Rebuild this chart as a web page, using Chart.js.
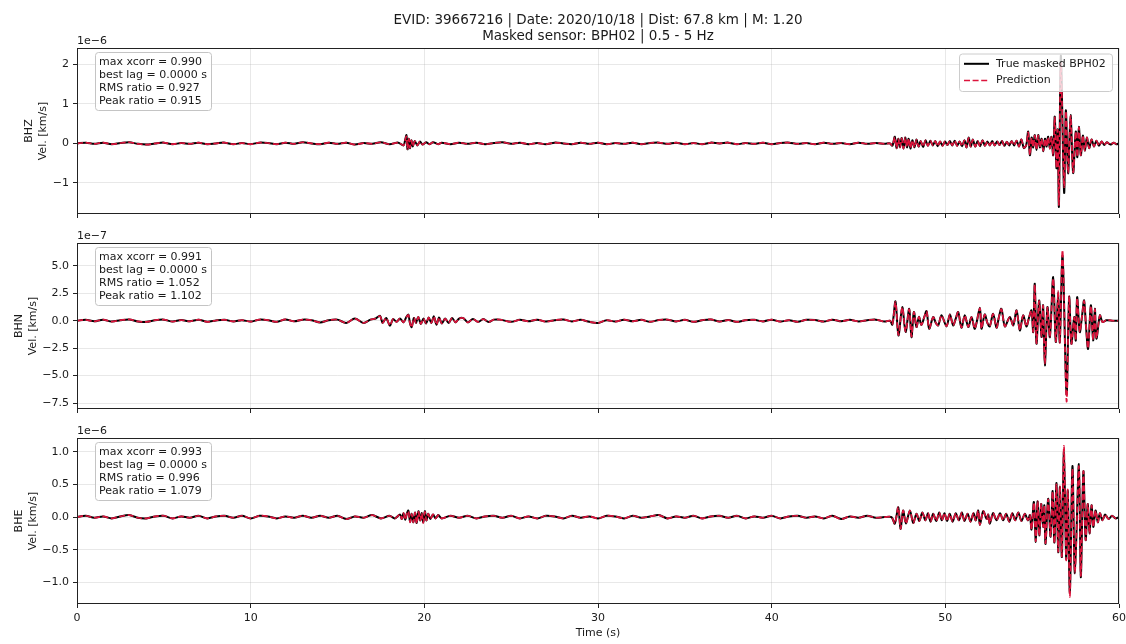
<!DOCTYPE html>
<html><head><meta charset="utf-8">
<script src="https://cdn.jsdelivr.net/npm/chart.js@4.4.0/dist/chart.umd.min.js"></script>
<style>
html,body{margin:0;padding:0;background:#fff;}
#wrap{position:relative;width:1126px;height:644px;overflow:hidden;background:#fff;}
canvas{position:absolute;left:0;}
</style></head><body>
<div id="wrap">
<canvas id="c1" width="1126" height="228" style="top:0px"></canvas>
<canvas id="c2" width="1126" height="195" style="top:228px"></canvas>
<canvas id="c3" width="1126" height="221" style="top:423px"></canvas>
</div>
<script>
// ---------------- DATA ----------------
const titleLines = ['EVID: 39667216 | Date: 2020/10/18 | Dist: 67.8 km | M: 1.20', 'Masked sensor: BPH02 | 0.5 - 5 Hz'];
const seriesNames = ['True masked BPH02', 'Prediction'];
const xTicks = [0,10,20,30,40,50,60];
const xTickLabels = ['0','10','20','30','40','50','60'];
const xTitle = 'Time (s)';

// BHZ (units 1e-6 km/s)
const timeBHZ = [
0,0.5,1,1.5,2,2.5,3,3.5,4,4.5,
5,5.5,6,6.5,7,7.5,8,8.5,9,9.5,
10,10.5,11,11.5,12,12.5,13,13.5,14,14.5,
15,15.5,16,16.5,17,17.5,18,18.5,18.8,18.9,
18.97,19.03,19.1,19.17,19.25,19.33,19.45,19.6,19.75,19.9,
20.1,20.3,20.5,20.8,21,21.5,22,22.5,23,23.5,
24,24.5,25,25.5,26,26.5,27,27.5,28,28.5,
29,29.5,30,30.5,31,31.5,32,32.5,33,33.5,
34,34.5,35,35.5,36,36.5,37,37.5,38,38.5,
39,39.5,40,40.5,41,41.5,42,42.5,43,43.5,
44,44.5,45,45.5,46,46.5,46.81,46.95,47.09,47.19,
47.29,47.39,47.49,47.59,47.69,47.79,47.89,47.99,48.1,48.22,
48.34,48.46,48.58,48.72,48.86,49,49.14,49.28,49.42,49.56,
49.7,49.84,49.98,50.12,50.26,50.4,50.54,50.68,50.82,50.96,
51.1,51.22,51.34,51.46,51.58,51.72,51.86,52,52.14,52.28,
52.42,52.56,52.7,52.84,52.98,53.12,53.26,53.4,53.54,53.68,
53.82,53.96,54.1,54.24,54.38,54.52,54.66,54.77,54.87,54.97,
55.06,55.15,55.25,55.35,55.44,55.54,55.64,55.74,55.83,55.92,
56.02,56.11,56.21,56.3,56.4,56.47,56.54,56.65,56.84,56.94,
57.07,57.21,57.36,57.51,57.6,57.69,57.8,57.92,58.03,58.15,
58.28,58.42,58.56,58.7,58.85,59,59.15,59.3,59.5,59.7,
59.85,60];
const trueBHZ = [
0,0.02,-0.01,0.02,-0.02,0.01,0.03,-0.01,-0.03,0,
0.02,-0.02,0.01,-0.01,0.02,-0.02,0,0.02,-0.02,0.01,
-0.02,0.02,0.01,-0.02,0.02,-0.01,0.03,0,-0.02,0.02,
-0.01,0.02,-0.03,0.01,-0.01,0.03,-0.02,0.02,-0.05,0.1,
0.21,-0.15,0.12,-0.12,0.08,-0.08,0.06,-0.05,0.05,-0.03,
0.03,-0.02,0.03,-0.02,0.02,-0.02,0.02,-0.01,0.02,-0.02,
0.01,0.03,-0.01,0.02,-0.02,0.01,-0.02,0.02,0,-0.02,
0.02,-0.01,0.02,-0.02,0.01,-0.01,0.02,-0.02,0.01,0.02,
-0.01,0.02,-0.02,0.01,-0.02,0.02,0,0.02,-0.02,0.01,
-0.01,0.02,-0.02,0.01,0.02,-0.01,0.01,-0.02,0.02,-0.01,
0.01,-0.02,0.02,-0.01,0.01,-0.01,0,-0.06,0.17,-0.12,
0.12,-0.1,0.14,-0.13,0.15,-0.1,0.12,-0.13,0.08,-0.1,
0.1,-0.08,0.06,-0.09,0.08,-0.06,0.07,-0.05,0.06,-0.07,
0.05,-0.06,0.05,-0.04,0.06,-0.05,0.07,-0.06,0.05,-0.07,
0.08,-0.1,0.15,-0.08,0.1,-0.08,0.06,-0.07,0.08,-0.06,
0.05,-0.05,0.06,-0.05,0.05,-0.04,0.06,-0.06,0.04,-0.05,
0.06,-0.05,0.07,-0.08,0.1,-0.12,-0.04,0.3,-0.3,0.15,
-0.1,0.21,-0.17,0.21,-0.1,0.12,-0.2,0.12,-0.08,0.17,
-0.13,0.17,-0.3,0.68,-0.63,0.35,-1.6,2.23,-1.25,0.84,
-0.76,0.72,-0.75,0.3,-0.35,0.42,-0.3,0.2,-0.18,0.15,
-0.12,0.1,-0.08,0.07,-0.06,0.05,-0.04,0.03,-0.03,0.02,
-0.02,0];
const predBHZ = [
0,0.02,-0.01,0.02,-0.02,0.01,0.03,-0.01,-0.03,0,
0.02,-0.02,0.01,-0.01,0.02,-0.02,0,0.02,-0.02,0.01,
-0.02,0.02,0.01,-0.02,0.02,-0.01,0.03,0,-0.02,0.02,
-0.01,0.02,-0.03,0.01,-0.01,0.03,-0.02,0.02,-0.05,0.09,
0.18,-0.14,0.12,-0.11,0.08,-0.07,0.06,-0.05,0.05,-0.03,
0.03,-0.02,0.03,-0.02,0.02,-0.02,0.02,-0.01,0.02,-0.02,
0.01,0.03,-0.01,0.02,-0.02,0.01,-0.02,0.02,0,-0.02,
0.02,-0.01,0.02,-0.02,0.01,-0.01,0.02,-0.02,0.01,0.02,
-0.01,0.02,-0.02,0.01,-0.02,0.02,0,0.02,-0.02,0.01,
-0.01,0.02,-0.02,0.01,0.02,-0.01,0.01,-0.02,0.02,-0.01,
0.01,-0.02,0.02,-0.01,0.01,-0.01,0,-0.05,0.16,-0.12,
0.11,-0.1,0.13,-0.13,0.15,-0.09,0.12,-0.12,0.08,-0.1,
0.09,-0.08,0.06,-0.08,0.08,-0.06,0.07,-0.05,0.06,-0.07,
0.05,-0.06,0.05,-0.04,0.06,-0.05,0.07,-0.06,0.05,-0.07,
0.08,-0.1,0.14,-0.08,0.1,-0.08,0.06,-0.07,0.08,-0.06,
0.05,-0.05,0.06,-0.05,0.05,-0.04,0.06,-0.06,0.04,-0.05,
0.06,-0.05,0.07,-0.08,0.1,-0.11,-0.04,0.28,-0.29,0.14,
-0.1,0.2,-0.16,0.2,-0.1,0.12,-0.19,0.12,-0.08,0.16,
-0.13,0.16,-0.29,0.66,-0.62,0.34,-1.55,2.04,-1.1,0.82,
-0.74,0.7,-0.73,0.3,-0.34,0.41,-0.3,0.2,-0.18,0.15,
-0.12,0.1,-0.08,0.07,-0.06,0.05,-0.04,0.03,-0.03,0.02,
-0.02,0];
const ticksBHZ = [-1,0,1,2];
const labelsBHZ = ['\u22121','0','1','2'];
const statsBHZ = ['max xcorr = 0.990','best lag = 0.0000 s','RMS ratio = 0.927','Peak ratio = 0.915'];

// BHN (units 1e-7 km/s)
const timeBHN = [
0,0.5,1,1.5,2,2.5,3,3.5,4,4.5,
5,5.5,6,6.5,7,7.5,8,8.5,9,9.5,
10,10.5,11,11.5,12,12.5,13,13.5,14,14.5,
15,15.5,16,16.5,16.9,17.2,17.45,17.6,17.8,18.02,
18.2,18.4,18.6,18.8,18.95,19.08,19.17,19.27,19.4,19.52,
19.65,19.8,19.95,20.1,20.25,20.4,20.55,20.7,20.85,21,
21.2,21.4,21.6,21.8,22,22.24,22.5,22.8,23.1,23.4,
23.7,24,24.35,25,25.5,26,26.5,27,27.5,28,
28.5,29,29.5,30,30.5,31,31.5,32,32.5,33,
33.5,34,34.5,35,35.5,36,36.5,37,37.5,38,
38.5,39,39.5,40,40.5,41,41.5,42,42.5,43,
43.5,44,44.5,45,45.5,46,46.5,46.81,46.95,47.13,
47.3,47.52,47.71,47.92,48.05,48.19,48.34,48.48,48.62,48.78,
48.92,49.07,49.3,49.45,49.59,49.78,50.07,50.26,50.45,50.6,
50.74,50.93,51.12,51.32,51.51,51.7,51.99,52.08,52.27,52.42,
52.56,52.75,52.95,53.08,53.23,53.43,53.71,53.91,54.1,54.29,
54.48,54.67,54.82,54.96,55.06,55.15,55.25,55.4,55.54,55.63,
55.73,55.88,56.02,56.21,56.36,56.5,56.59,56.75,56.98,57.13,
57.26,57.42,57.51,57.59,57.74,57.87,57.99,58.1,58.22,58.38,
58.51,58.61,58.7,58.9,59.05,59.28,59.66,60];
const trueBHN = [
0,0.08,-0.05,0.1,-0.08,0.05,0.12,-0.06,-0.1,0.05,
0.1,-0.08,0.06,-0.05,0.1,-0.1,0.02,0.08,-0.06,0.05,
-0.08,0.1,0.05,-0.1,0.12,-0.05,0.1,0.05,-0.15,0.05,
0.1,-0.2,0.2,-0.2,0.1,0.2,0.45,-0.2,0.25,-0.45,
0.15,-0.1,0.2,-0.15,0.3,0.55,-0.2,-0.58,0.25,-0.2,
0.35,-0.3,0.2,-0.25,0.3,-0.2,0.4,-0.36,0.3,-0.25,
0.2,-0.2,0.25,-0.15,0.2,0.24,-0.15,0.15,-0.1,0.15,
-0.12,0.1,0.1,-0.1,0.08,-0.05,0.1,-0.08,0.05,0.12,
-0.06,0.08,-0.1,-0.2,0.05,-0.08,0.1,-0.05,0.08,-0.1,
0.06,0.1,-0.06,0.08,-0.1,0.05,0.12,-0.08,0.06,-0.1,
0.05,0.08,-0.06,0.1,-0.08,0.05,-0.1,0.08,0.06,-0.08,
0.1,-0.05,0.08,-0.06,0.05,0.1,-0.08,0,-0.35,1.76,
-1.34,1.24,-1.03,1.09,-1.49,0.79,-0.58,0.35,-0.4,0.3,
0.88,-0.73,0.33,-0.2,-0.42,0.49,-0.52,0.58,-0.42,0.2,
0.79,-0.64,0.49,-0.58,0.33,-0.73,1.18,-0.73,0.58,-0.2,
-0.52,0.64,-0.64,0.3,1.09,-0.52,0.33,-0.42,0.94,-0.88,
0.49,-0.52,0.3,0.94,-1.03,3.37,-2.09,1.85,-1.49,1.4,
-4.07,1.24,-1.49,3.98,-1.94,2.61,-1.94,5.9,-6.7,2.15,
-2.09,0.33,-1.8,2.15,-1.03,0.4,1.85,-0.5,-2.55,1.4,
-1.79,1.09,-1.64,0.49,-0.12,0.05,0,0];
const predBHN = [
0,0.08,-0.05,0.1,-0.08,0.05,0.12,-0.06,-0.1,0.05,
0.1,-0.08,0.06,-0.05,0.1,-0.1,0.02,0.08,-0.06,0.05,
-0.08,0.1,0.05,-0.1,0.12,-0.05,0.1,0.05,-0.15,0.05,
0.1,-0.2,0.2,-0.2,0.1,0.2,0.42,-0.2,0.25,-0.43,
0.15,-0.1,0.2,-0.15,0.3,0.52,-0.2,-0.6,0.25,-0.2,
0.35,-0.3,0.2,-0.25,0.3,-0.2,0.38,-0.36,0.3,-0.25,
0.2,-0.2,0.25,-0.15,0.2,0.24,-0.15,0.15,-0.1,0.15,
-0.12,0.1,0.1,-0.1,0.08,-0.05,0.1,-0.08,0.05,0.12,
-0.06,0.08,-0.1,-0.2,0.05,-0.08,0.1,-0.05,0.08,-0.1,
0.06,0.1,-0.06,0.08,-0.1,0.05,0.12,-0.08,0.06,-0.1,
0.05,0.08,-0.06,0.1,-0.08,0.05,-0.1,0.08,0.06,-0.08,
0.1,-0.05,0.08,-0.06,0.05,0.1,-0.08,0,-0.33,1.7,
-1.3,1.22,-1.0,1.05,-1.45,0.78,-0.56,0.35,-0.4,0.3,
0.85,-0.7,0.33,-0.2,-0.42,0.48,-0.5,0.56,-0.42,0.2,
0.77,-0.62,0.48,-0.56,0.33,-0.7,1.15,-0.72,0.56,-0.2,
-0.5,0.62,-0.62,0.3,1.05,-0.52,0.33,-0.42,0.92,-0.86,
0.48,-0.5,0.3,0.92,-1.0,3.3,-2.05,1.8,-1.45,1.38,
-3.9,1.2,-1.45,3.85,-1.9,2.7,-2.0,6.4,-7.35,2.2,
-2.1,0.3,-1.75,2.05,-1.0,0.4,1.8,-0.5,-2.5,1.35,
-1.75,1.05,-1.6,0.48,-0.12,0.05,0,0];
const ticksBHN = [-7.5,-5,-2.5,0,2.5,5];
const labelsBHN = ['\u22127.5','\u22125.0','\u22122.5','0.0','2.5','5.0'];
const statsBHN = ['max xcorr = 0.991','best lag = 0.0000 s','RMS ratio = 1.052','Peak ratio = 1.102'];

// BHE (units 1e-6 km/s)
const timeBHE = [
0,0.5,1,1.5,2,2.5,3,3.5,4,4.5,
5,5.5,6,6.5,7,7.5,8,8.5,9,9.5,
10,10.5,11,11.5,12,12.5,13,13.5,14,14.5,
15,15.5,16,16.5,17,17.5,18,18.3,18.6,18.7,
18.8,18.9,19,19.08,19.18,19.27,19.37,19.47,19.56,19.66,
19.76,19.85,19.94,20.03,20.12,20.22,20.35,20.5,20.65,20.8,
21,21.5,22,22.5,23,23.5,24,24.5,25,25.5,
26,26.5,27,27.5,28,28.5,29,29.5,30,30.5,
31,31.5,32,32.5,33,33.5,34,34.5,35,35.5,
36,36.5,37,37.5,38,38.5,39,39.5,40,40.5,
41,41.5,42,42.5,43,43.5,44,44.5,45,45.5,
46,46.5,46.9,47.09,47.29,47.42,47.57,47.73,47.96,48.15,
48.34,48.5,48.68,48.85,49,49.15,49.3,49.48,49.65,49.8,
49.95,50.1,50.25,50.42,50.6,50.78,50.95,51.1,51.28,51.45,
51.62,51.75,51.89,51.99,52.18,52.38,52.47,52.56,52.75,52.95,
53.15,53.33,53.5,53.68,53.86,54.02,54.2,54.38,54.58,54.75,
54.87,54.96,55.1,55.21,55.31,55.41,55.52,55.63,55.7,55.77,
55.92,56.06,56.18,56.28,56.4,56.5,56.6,56.71,56.83,56.96,
57.05,57.17,57.32,57.46,57.69,57.8,57.95,58.08,58.2,58.3,
58.42,58.52,58.65,58.78,58.9,59.05,59.2,59.4,59.6,59.8,
60];
const trueBHE = [
0,0.02,-0.01,0.01,-0.02,0.01,0.03,-0.01,-0.02,0.01,
0.02,-0.02,0.01,-0.01,0.02,-0.02,0.01,0.02,-0.01,0.02,
-0.02,0.02,0.01,-0.02,0.01,-0.01,0.02,-0.01,0.02,-0.01,
0.02,-0.03,0.01,-0.01,0.03,-0.02,0.02,-0.02,0.04,-0.03,
0.06,-0.04,0.06,0.1,-0.07,0.05,-0.08,0.07,-0.09,0.09,
-0.05,0.06,-0.08,0.09,-0.05,0.05,-0.03,0.04,-0.02,0.03,
-0.02,0.02,-0.01,0.02,-0.02,0.01,0.02,-0.01,0.02,-0.02,
0.01,-0.02,0.02,0.01,-0.02,0.02,-0.01,0.01,-0.02,0.02,
0.01,-0.02,0.02,-0.01,0.01,0.03,-0.02,0.01,-0.01,0.02,
-0.02,0.01,0.02,-0.01,0.02,-0.02,0.01,-0.01,0.02,-0.02,
0.01,0.02,-0.01,0.01,-0.02,0.02,-0.03,0.01,-0.01,0.02,
-0.01,0,0,-0.1,0.15,-0.18,0.1,-0.1,0.1,-0.09,
0.05,-0.06,0.07,-0.05,0.06,-0.07,0.05,-0.06,0.07,-0.05,
0.06,-0.06,0.05,-0.07,0.06,-0.05,0.07,-0.06,0.05,-0.07,
0.06,-0.05,0.1,-0.12,0.09,-0.03,0.04,-0.1,0.06,-0.05,
0.06,-0.05,0.05,-0.07,0.06,-0.05,0.07,-0.06,0.05,-0.05,
0.03,-0.19,0.23,-0.38,0.24,-0.28,0.2,-0.15,0.18,-0.41,
0.28,-0.3,0.4,-0.39,0.52,-0.54,0.46,-0.61,1.0,-0.64,
0.4,-1.15,0.78,-0.86,0.81,-0.92,0.7,-0.35,0.2,-0.25,
0.18,-0.15,0.1,-0.08,0.06,-0.05,0.04,-0.03,0.02,-0.02,
0];
const predBHE = [
0,0.02,-0.01,0.01,-0.02,0.01,0.03,-0.01,-0.02,0.01,
0.02,-0.02,0.01,-0.01,0.02,-0.02,0.01,0.02,-0.01,0.02,
-0.02,0.02,0.01,-0.02,0.01,-0.01,0.02,-0.01,0.02,-0.01,
0.02,-0.03,0.01,-0.01,0.03,-0.02,0.02,-0.02,0.04,-0.03,
0.06,-0.04,0.06,0.09,-0.08,0.05,-0.08,0.07,-0.1,0.08,
-0.05,0.06,-0.09,0.08,-0.05,0.05,-0.03,0.04,-0.02,0.03,
-0.02,0.02,-0.01,0.02,-0.02,0.01,0.02,-0.01,0.02,-0.02,
0.01,-0.02,0.02,0.01,-0.02,0.02,-0.01,0.01,-0.02,0.02,
0.01,-0.02,0.02,-0.01,0.01,0.03,-0.02,0.01,-0.01,0.02,
-0.02,0.01,0.02,-0.01,0.02,-0.02,0.01,-0.01,0.02,-0.02,
0.01,0.02,-0.01,0.01,-0.02,0.02,-0.03,0.01,-0.01,0.02,
-0.01,0,0,-0.1,0.15,-0.18,0.1,-0.1,0.1,-0.09,
0.05,-0.06,0.07,-0.05,0.06,-0.07,0.05,-0.06,0.07,-0.05,
0.06,-0.06,0.05,-0.07,0.06,-0.05,0.07,-0.06,0.05,-0.07,
0.06,-0.05,0.1,-0.12,0.09,-0.03,0.04,-0.1,0.06,-0.05,
0.06,-0.05,0.05,-0.07,0.06,-0.05,0.07,-0.06,0.05,-0.05,
0.03,-0.19,0.22,-0.37,0.24,-0.28,0.2,-0.15,0.18,-0.4,
0.27,-0.29,0.39,-0.4,0.5,-0.53,0.47,-0.6,1.09,-0.66,
0.42,-1.22,0.74,-0.85,0.78,-0.9,0.7,-0.35,0.2,-0.25,
0.18,-0.15,0.1,-0.08,0.06,-0.05,0.04,-0.03,0.02,-0.02,
0];
const ticksBHE = [-1,-0.5,0,0.5,1];
const labelsBHE = ['\u22121.0','\u22120.5','0.0','0.5','1.0'];
const statsBHE = ['max xcorr = 0.993','best lag = 0.0000 s','RMS ratio = 0.996','Peak ratio = 1.079'];

// ---------------- STYLE / LAYOUT ----------------
const FONT = "'DejaVu Sans', 'Liberation Sans', sans-serif";
const TXT = '#1a1a1a';
const RED = '#dc143c';
const GRID = 'rgba(176,176,176,0.32)';

const panels = [
  {id:'c1', name:'BHZ', offset:'1e\u22126', time:timeBHZ, truth:trueBHZ, pred:predBHZ, yMin:-1.79, yMax:2.42, ticks:ticksBHZ, labels:labelsBHZ, stats:statsBHZ, padTop:48, xH:14, showX:false, legend:true, title:true, yTitlePad:23},
  {id:'c2', name:'BHN', offset:'1e\u22127', time:timeBHN, truth:trueBHN, pred:predBHN, yMin:-8.04, yMax:7.08, ticks:ticksBHN, labels:labelsBHN, stats:statsBHN, padTop:15, xH:14, showX:false, legend:false, title:false, yTitlePad:13},
  {id:'c3', name:'BHE', offset:'1e\u22126', time:timeBHE, truth:trueBHE, pred:predBHE, yMin:-1.33, yMax:1.21, ticks:ticksBHE, labels:labelsBHE, stats:statsBHE, padTop:15, xH:40, showX:true, legend:false, title:false, yTitlePad:13}
];

function rr(ctx,x,y,w,h,r){ctx.beginPath();ctx.moveTo(x+r,y);ctx.arcTo(x+w,y,x+w,y+h,r);ctx.arcTo(x+w,y+h,x,y+h,r);ctx.arcTo(x,y+h,x,y,r);ctx.arcTo(x,y,x+w,y,r);ctx.closePath();}

const decorPlugin = {
  id:'decor',
  afterDatasetsDraw(chart){
    const p = chart.config.options.plugins.decor;
    const ctx = chart.ctx, a = chart.chartArea;
    ctx.save();
    // frame
    ctx.strokeStyle = '#222'; ctx.lineWidth = 1;
    ctx.strokeRect(Math.round(a.left)+0.5, Math.round(a.top)+0.5, Math.round(a.right-a.left)-1, Math.round(a.bottom-a.top)-1);
    // offset text
    ctx.fillStyle = TXT; ctx.font = '11px '+FONT; ctx.textAlign='left'; ctx.textBaseline='middle';
    ctx.fillText(p.offset, a.left, a.top-7);
    // stats box
    const bx = a.left+18, by = a.top+4, bw = 116, bh = 58;
    rr(ctx,bx+0.5,by+0.5,bw,bh,3);
    ctx.fillStyle='rgba(255,255,255,0.85)'; ctx.fill();
    ctx.strokeStyle='#c4c4c4'; ctx.lineWidth=1; ctx.stroke();
    ctx.fillStyle=TXT; ctx.textBaseline='middle';
    p.stats.forEach((s,i)=>ctx.fillText(s, bx+4, by+10+i*13.2));
    // legend
    if (p.legend){
      const lx = a.right-160, ly = a.top+5.5, lw = 153, lh = 37.5;
      rr(ctx,lx+0.5,ly+0.5,lw,lh,3);
      ctx.fillStyle='rgba(255,255,255,0.8)'; ctx.fill();
      ctx.strokeStyle='#cccccc'; ctx.lineWidth=1; ctx.stroke();
      const r1 = ly+10.3, r2 = ly+27;
      ctx.beginPath(); ctx.strokeStyle='#000'; ctx.lineWidth=2; ctx.moveTo(lx+5,r1); ctx.lineTo(lx+30,r1); ctx.stroke();
      ctx.beginPath(); ctx.strokeStyle=RED; ctx.lineWidth=1.7; ctx.setLineDash([6,2.6]); ctx.moveTo(lx+5,r2); ctx.lineTo(lx+30,r2); ctx.stroke();
      ctx.setLineDash([]);
      ctx.fillStyle=TXT; ctx.textAlign='left'; ctx.textBaseline='middle';
      ctx.fillText(seriesNames[0], lx+37, r1);
      ctx.fillText(seriesNames[1], lx+37, r2);
    }
    // figure title
    if (p.title){
      ctx.fillStyle=TXT; ctx.font='13.5px '+FONT; ctx.textAlign='center'; ctx.textBaseline='middle';
      const cx = (a.left+a.right)/2;
      ctx.fillText(titleLines[0], cx, 20.5);
      ctx.fillText(titleLines[1], cx, 36);
    }
    ctx.restore();
  }
};

function makeChart(p){
  const ctx = document.getElementById(p.id).getContext('2d');
  const truthPts = p.time.map((t,i)=>({x:t, y:p.truth[i]}));
  const predPts = p.time.map((t,i)=>({x:t, y:p.pred[i]}));
  const font = {family:FONT, size:11};
  return new Chart(ctx, {
    type:'line',
    data:{datasets:[
      {label:seriesNames[1], data:predPts, borderColor:RED, borderWidth:1.7, borderDash:[6,2.6], pointRadius:0, tension:0.3, fill:false, order:0},
      {label:seriesNames[0], data:truthPts, borderColor:'#000', borderWidth:2, pointRadius:0, tension:0.3, fill:false, order:1}
    ]},
    options:{
      responsive:false, animation:false, events:[], devicePixelRatio:1,
      layout:{padding:{top:p.padTop, right:7, bottom:0, left:0}},
      scales:{
        x:{type:'linear', min:0, max:60,
          afterBuildTicks: ax => { ax.ticks = xTicks.map(v=>({value:v})); },
          ticks:{font, color:TXT, padding:3.5, maxRotation:0, autoSkip:false,
            callback:(v)=> p.showX ? xTickLabels[xTicks.indexOf(v)] : ''},
          grid:{color:GRID, lineWidth:0.9, drawTicks:true, tickLength:4, tickColor:'#222', tickWidth:1},
          border:{display:false},
          title:{display:p.showX, text:xTitle, font, color:TXT, padding:{top:0,bottom:4.4}},
          afterFit: s => { s.height = p.xH; s.paddingLeft = 0; s.paddingRight = 0; }
        },
        y:{type:'linear', min:p.yMin, max:p.yMax,
          afterBuildTicks: ax => { ax.ticks = p.ticks.map(v=>({value:v})); },
          ticks:{font, color:TXT, padding:4, callback:(v)=> p.labels[p.ticks.indexOf(v)]},
          grid:{color:GRID, lineWidth:0.9, drawTicks:true, tickLength:4, tickColor:'#222', tickWidth:1},
          border:{display:false},
          title:{display:true, text:[p.name,'Vel. [km/s]'], font, color:TXT, padding:{top:p.yTitlePad,bottom:0}},
          afterFit: s => { s.width = 77; s.paddingTop = 0; s.paddingBottom = 0; }
        }
      },
      plugins:{legend:{display:false}, tooltip:{enabled:false}, title:{display:false},
        decor:{offset:p.offset, stats:p.stats, legend:p.legend, title:p.title}}
    },
    plugins:[decorPlugin]
  });
}
panels.forEach(makeChart);
</script>
</body></html>
